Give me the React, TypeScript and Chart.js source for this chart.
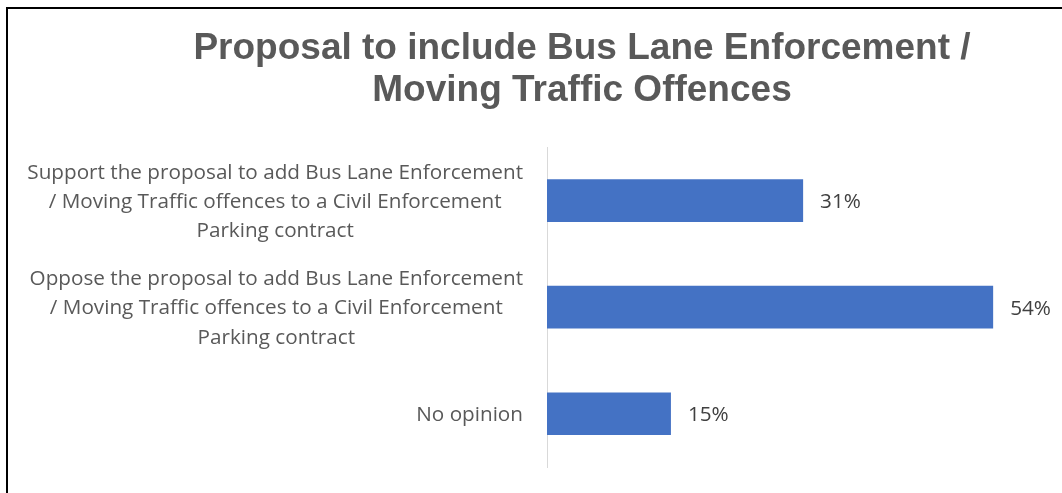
import React, { useEffect, useRef } from "react";
import { Chart, registerables } from "chart.js";

Chart.register(...registerables);

const titleLines = ["Proposal to include Bus Lane Enforcement /", "Moving Traffic Offences"];
const categories = [
  [
    "Support the proposal to add Bus Lane Enforcement",
    "/ Moving Traffic offences to a Civil Enforcement",
    "Parking contract",
  ],
  [
    "Oppose the proposal to add Bus Lane Enforcement",
    "/ Moving Traffic offences to a Civil Enforcement",
    "Parking contract",
  ],
  ["No opinion"],
];
const values = [31, 54, 15];
const valueSuffix = "%";
const axisMin = 0;
const axisMax = 72.5;

const LABEL_FONT = "'Open Sans', 'Noto Sans', sans-serif";
const LABEL_SIZE = 20.7;
const LABEL_LINE = 29.3;
const LABEL_GAP = 24;

// Category labels: each block right-aligned against the axis, its lines centred on each other
const categoryLabels = {
  id: "categoryLabels",
  afterDraw(chart: any) {
    const ctx = chart.ctx;
    const yScale = chart.scales.y;
    const labels = chart.data.labels as string[][];
    ctx.save();
    ctx.font = `${LABEL_SIZE}px ${LABEL_FONT}`;
    ctx.fillStyle = "#595959";
    ctx.textAlign = "center";
    ctx.textBaseline = "alphabetic";
    labels.forEach((lines, i) => {
      const arr = Array.isArray(lines) ? lines : [lines];
      const widest = Math.max(...arr.map((l) => ctx.measureText(l).width));
      const cx = chart.chartArea.left - LABEL_GAP - widest / 2;
      const py = yScale.getPixelForTick(i);
      arr.forEach((line, j) => {
        const y = py + LABEL_SIZE * 0.355 + (j - (arr.length - 1) / 2) * LABEL_LINE;
        ctx.fillText(line, cx, y);
      });
    });
    ctx.restore();
  },
};

const barLabels = {
  id: "barLabels",
  afterDatasetsDraw(chart: any) {
    const ctx = chart.ctx;
    const meta = chart.getDatasetMeta(0);
    const data = chart.data.datasets[0].data;
    ctx.save();
    ctx.font = `${LABEL_SIZE}px ${LABEL_FONT}`;
    ctx.fillStyle = "#404040";
    ctx.textAlign = "left";
    ctx.textBaseline = "alphabetic";
    meta.data.forEach((bar: any, i: number) => {
      ctx.fillText(`${data[i]}${valueSuffix}`, bar.x + 17, bar.y + LABEL_SIZE * 0.37);
    });
    ctx.restore();
  },
};

export default function App() {
  const ref = useRef<HTMLCanvasElement>(null);

  useEffect(() => {
    document.documentElement.style.overflow = "hidden";
    document.body.style.overflow = "hidden";
    const chart = new Chart(ref.current as HTMLCanvasElement, {
      type: "bar",
      data: {
        labels: categories,
        datasets: [
          {
            data: values,
            backgroundColor: "#4472C4",
            borderWidth: 0,
            barPercentage: 0.4,
            categoryPercentage: 1,
          },
        ],
      },
      options: {
        indexAxis: "y",
        responsive: false,
        animation: false,
        devicePixelRatio: 1,
        layout: { padding: { left: 10, right: 10, top: 0, bottom: 26 } },
        plugins: {
          legend: { display: false },
          tooltip: { enabled: false },
          title: {
            display: true,
            text: titleLines,
            color: "#595959",
            font: {
              family: "'Liberation Sans', Arial, sans-serif",
              size: 37,
              weight: "bold",
              lineHeight: 42 / 37,
            },
            padding: { top: 18.5, bottom: 35.8 },
          },
        },
        scales: {
          x: { display: false, min: axisMin, max: axisMax },
          y: {
            grid: { display: false, drawTicks: false },
            border: { display: true, color: "#D9D9D9", width: 1 },
            ticks: { display: false },
            afterFit: (s: any) => {
              s.width = 529;
              s.paddingTop = 0;
              s.paddingBottom = 0;
            },
          },
        },
      } as any,
      plugins: [barLabels, categoryLabels],
    });
    return () => chart.destroy();
  }, []);

  return (
    <div
      style={{
        position: "absolute",
        left: 6,
        top: 7,
        width: 1054,
        height: 484,
        overflow: "hidden",
        borderLeft: "2px solid #000",
        borderTop: "2px solid #000",
        background: "#fff",
      }}
    >
      <canvas ref={ref} width={1148} height={484} style={{ display: "block", width: 1148, height: 484 }} />
    </div>
  );
}
